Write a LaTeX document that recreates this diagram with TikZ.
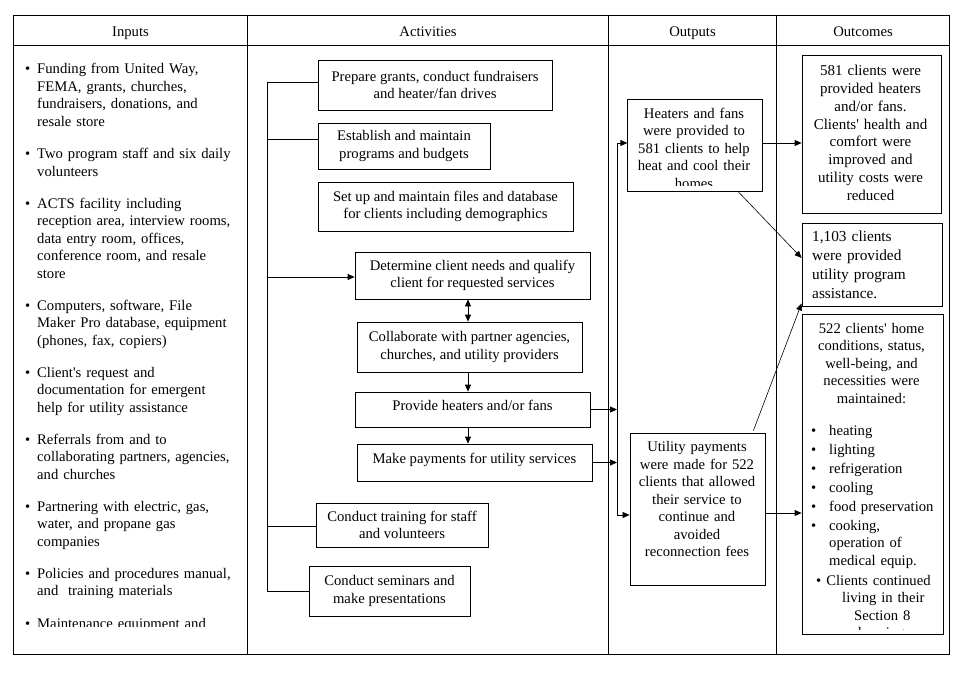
\documentclass[tikz,border=0pt]{standalone}
\usepackage{fontspec}
\setmainfont{Liberation Serif}[Ligatures=TeXOff]
\usetikzlibrary{arrows.meta}
\newcommand\fsmain{\fontsize{14.67}{17.5}\selectfont}
\newcommand\fsbig{\fontsize{15}{17.8}\selectfont}
\newcommand\fsbigb{\fontsize{15.3}{19}\selectfont}
\newcommand\mybul{\leavevmode\llap{\textbullet\hspace{7pt}}}
\newcommand\obul{\leavevmode\llap{\textbullet\hspace{13pt}}}
\begin{document}
\begin{tikzpicture}[x=1pt,y=-1pt,
  ln/.style={line width=0.8pt},
  arr/.style={line width=0.8pt,-{Triangle[length=7pt,width=6pt]}},
  darr/.style={line width=0.8pt,{Triangle[length=7pt,width=6pt]}-{Triangle[length=7pt,width=6pt]}},
  frame/.style={draw,line width=0.8pt,inner sep=0pt},
  abox/.style={frame,align=center,font=\fsmain},
  hdr/.style={anchor=base,inner sep=0pt,font=\fsmain},
  lt/.style={anchor=base west,inner sep=0pt,text width=230pt,align=left,font=\fsmain},
  ct/.style={anchor=base,inner sep=0pt,text width=136pt,align=center,font=\fsmain}
]
\useasboundingbox (0,0) rectangle (971,682);
% table
\draw[ln] (13,15) rectangle (949,654);
\draw[ln] (13,45) -- (949,45);
\draw[ln] (247.5,15) -- (247.5,654);
\draw[ln] (608.5,15) -- (608.5,654);
\draw[ln] (776,15) -- (776,654);
\node[hdr] (h1) at (130.5,36.5) {Inputs};
\node[hdr] (h2) at (428,36.5) {Activities};
\node[hdr] (h3) at (692.5,36.5) {Outputs};
\node[hdr] (h4) at (863,36.5) {Outcomes};
% inputs
\begin{scope}
\clip (14,46) rectangle (246,626.5);
\node[lt] (i1) at (37,74) {\mybul Funding from United Way,\\FEMA, grants, churches,\\fundraisers, donations, and\\resale store};
\node[lt] (i2) at (37,158.5) {\mybul Two program staff and six daily\\volunteers};
\node[lt] (i3) at (37,208) {\mybul ACTS facility including\\reception area, interview rooms,\\data entry room, offices,\\conference room, and resale\\store};
\node[lt] (i4) at (37,310) {\mybul Computers, software, File\\Maker Pro database, equipment\\(phones, fax, copiers)};
\node[lt] (i5) at (37,377) {\mybul Client's request and\\documentation for emergent\\help for utility assistance};
\node[lt] (i6) at (37,444) {\mybul Referrals from and to\\collaborating partners, agencies,\\and churches};
\node[lt] (i7) at (37,511) {\mybul Partnering with electric, gas,\\water, and propane gas\\companies};
\node[lt] (i8) at (37,578) {\mybul Policies and procedures manual,\\and\ \ training materials};
\node[lt] (i9) at (37,628.5) {\mybul Maintenance equipment and};
\end{scope}
% activities
\node[abox,minimum width=234,minimum height=50] (a1) at (435,85) {Prepare grants, conduct fundraisers\\and heater/fan drives};
\node[abox,minimum width=172,minimum height=46] (a2) at (404,146) {Establish and maintain\\programs and budgets};
\node[abox,minimum width=255,minimum height=49] (a3) at (445.5,206.5) {Set up and maintain files and database\\for clients including demographics};
\node[abox,minimum width=235,minimum height=47] (a4) at (472.5,275.5) {Determine client needs and qualify\\client for requested services};
\node[abox,minimum width=225,minimum height=50] (a5) at (469.5,347) {Collaborate with partner agencies,\\churches, and utility providers};
\node[abox,minimum width=235,minimum height=35] (a6) at (472.5,409.5) {\raisebox{8pt}{Provide heaters and/or fans}};
\node[abox,minimum width=235,minimum height=37] (a7) at (474.5,462.5) {\raisebox{8pt}{Make payments for utility services}};
\node[abox,minimum width=172,minimum height=44] (a8) at (402,525) {Conduct training for staff\\and volunteers};
\node[abox,minimum width=161,minimum height=50] (a9) at (389.5,591) {Conduct seminars and\\make presentations};
% bracket
\coordinate (bt) at (267,82);
\coordinate (b2) at (267,139);
\coordinate (b4) at (267,277);
\coordinate (b8) at (267,526);
\coordinate (bb) at (267,591);
\draw[ln] (bt) -- (bb);
\draw[ln] (bt) -- (bt -| a1.west);
\draw[ln] (b2) -- (b2 -| a2.west);
\draw[arr] (b4) -- (b4 -| a4.west);
\draw[ln] (b8) -- (b8 -| a8.west);
\draw[ln] (bb) -- (bb -| a9.west);
\coordinate (vx) at (468,0);
\draw[darr] (a4.south -| vx) -- (a5.north -| vx);
\draw[arr] (a5.south -| vx) -- (a6.north -| vx);
\draw[arr] (a6.south -| vx) -- (a7.north -| vx);
% outputs
\node[frame,minimum width=134.5,minimum height=92.5] (hb) at (695,145.5) {};
\begin{scope}
\clip (629,100) rectangle (761,185);
\node[ct,text width=132pt] (hbt) at (694,118.3) {Heaters and fans\\were provided to\\581 clients to help\\heat and cool their\\homes};
\end{scope}
\node[frame,minimum width=135,minimum height=152] (ub) at (697.5,509) {};
\node[ct,text width=133pt] (ubt) at (697,451.7) {Utility payments\\were made for 522\\clients that allowed\\their service to\\continue and\\avoided\\reconnection fees};
\coordinate (ot) at (617,143);
\coordinate (ob) at (617,515);
\draw[ln] (ot) -- (ob);
\draw[arr] (ot) -- (ot -| hb.west);
\draw[arr] (ob) -- (ob -| ub.west);
\draw[arr] (a6.east) -- (a6.east -| ot);
\draw[arr] (a7.east) -- (a7.east -| ot);
% outcomes
\node[frame,minimum width=139,minimum height=158] (o1) at (871.5,134) {};
\node[ct,font=\fsbig] (o1t) at (870.5,75.7) {581 clients were\\provided heaters\\and/or fans.\\Clients' health and\\comfort were\\improved and\\utility costs were\\reduced};
\node[frame,minimum width=140,minimum height=83] (o2) at (872,264.5) {};
\node[lt,font=\fsbigb,text width=128pt] (o2t) at (812,241) {1,103 clients\\were provided\\utility program\\assistance.};
\node[frame,minimum width=141,minimum height=320] (o3) at (872.5,474) {};
\node[ct,text width=138pt] (o3a) at (871.5,333.3) {522 clients' home\\conditions, status,\\well-being, and\\necessities were\\maintained:};
\node[lt,text width=110pt] (o3b) at (829,435) {\obul heating\\[1.5pt]\obul lighting\\[1.5pt]\obul refrigeration\\[1.5pt]\obul cooling\\[1.5pt]\obul food preservation\\[1.5pt]\obul cooking,\\operation of\\medical equip.};
\begin{scope}
\clip (803,315) rectangle (942,629);
\node[lt,text width=125pt] (o3c) at (816,585) {\textbullet\hspace{5pt}Clients continued\\\hspace*{26pt}living in their\\\hspace*{38pt}Section 8\\\hspace*{42pt}housing};
\end{scope}
\coordinate (uy) at (0,513);
\draw[arr] (ot -| hb.east) -- (ot -| o1.west);
\draw[arr,line width=0.6pt] ([xshift=-24pt]hb.south east) -- ([yshift=6.5pt]o2.west);
\draw[arr,line width=0.6pt] ([xshift=-12pt,yshift=2pt]ub.north east) -- ([yshift=3pt]o2.south west);
\draw[arr] (ub.east |- uy) -- (o3.west |- uy);
\end{tikzpicture}
\end{document}
